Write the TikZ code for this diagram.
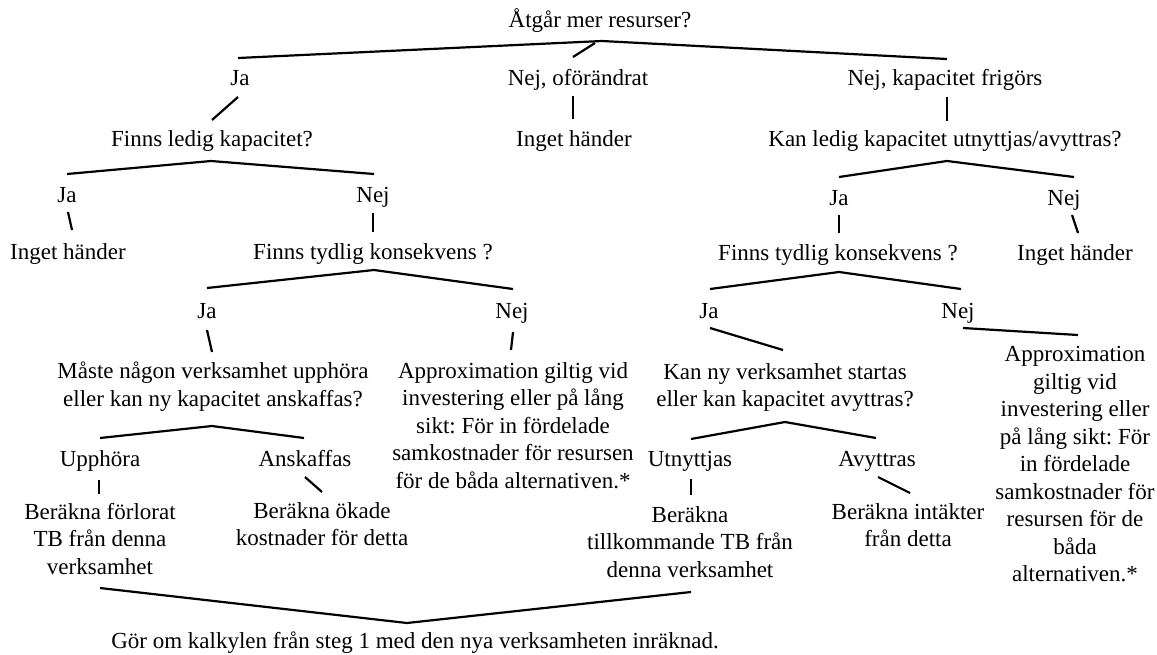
\documentclass[tikz,border=0pt]{standalone}
\usepackage{fontspec}
\setmainfont{Liberation Serif}
\frenchspacing
\begin{document}
\begin{tikzpicture}[x=1pt,y=-1pt,
  lbl/.style={font=\fontsize{23}{27.5}\selectfont, align=center, inner sep=0pt,
    execute at begin node=\strut, execute at end node=\strut},
  ln/.style={line width=2.2pt, line cap=butt, line join=miter}]
\useasboundingbox (0,0) rectangle (1157,654);

% ---------- texts ----------
\node[lbl] (q0) at (600,21.5) {Åtgår mer resurser?};
\node[lbl] (a1) at (240,79.5) {Ja};
\node[lbl] (a2) at (578,79.5) {Nej, oförändrat};
\node[lbl] (a3) at (945,79.5) {Nej, kapacitet frigörs};
\node[lbl] (q1) at (212,140.5) {Finns ledig kapacitet?};
\node[lbl] (r1) at (574,140.5) {Inget händer};
\node[lbl] (q2) at (945,140.5) {Kan ledig kapacitet utnyttjas/avyttras?};
\node[lbl] (b1) at (67,197) {Ja};
\node[lbl] (b2) at (373,197) {Nej};
\node[lbl] (b3) at (839,199.5) {Ja};
\node[lbl] (b4) at (1064,199.5) {Nej};
\node[lbl] (r2) at (68,254) {Inget händer};
\node[lbl] (q3) at (373,254) {Finns tydlig konsekvens ?};
\node[lbl] (q4) at (838,255) {Finns tydlig konsekvens ?};
\node[lbl] (r3) at (1075,255) {Inget händer};
\node[lbl] (c1) at (207,312.5) {Ja};
\node[lbl] (c2) at (512,312.5) {Nej};
\node[lbl] (c3) at (709,312.5) {Ja};
\node[lbl] (c4) at (958,312.5) {Nej};
\node[lbl] (q5) at (213,388.25) {Måste någon verksamhet upphöra\\eller kan ny kapacitet anskaffas?};
\node[lbl] (p1) at (513,429.5) {Approximation giltig vid\\investering eller på lång\\sikt: För in fördelade\\samkostnader för resursen\\för de båda alternativen.*};
\node[lbl] (q6) at (785,389.25) {Kan ny verksamhet startas\\eller kan kapacitet avyttras?};
\node[lbl] (p2) at (1075,468.5) {Approximation\\giltig vid\\investering eller\\på lång sikt: För\\in fördelade\\samkostnader för\\resursen för de\\båda\\alternativen.*};
\node[lbl] (d1) at (100,460.5) {Upphöra};
\node[lbl] (d2) at (305,460.5) {Anskaffas};
\node[lbl] (d3) at (690,460.5) {Utnyttjas};
\node[lbl] (d4) at (877,460.5) {Avyttras};
\node[lbl] (e1) at (100,543) {Beräkna förlorat\\TB från denna\\verksamhet};
\node[lbl] (e2) at (322,528.25) {Beräkna ökade\\kostnader för detta};
\node[lbl] (e3) at (690,546) {Beräkna\\tillkommande TB från\\denna verksamhet};
\node[lbl] (e4) at (908,529.25) {Beräkna intäkter\\från detta};
\node[lbl] (f) at (415,643) {Gör om kalkylen från steg 1 med den nya verksamheten inräknad.};

% ---------- connector end points ----------
\coordinate (top) at (602,41);
\coordinate (topL) at (238,58);
\coordinate (topR) at (947,59);
\coordinate (topMa) at (595,43);
\coordinate (topMb) at (573,57);
\coordinate (a1b) at (238,97);   \coordinate (q1t) at (212,120);
\coordinate (a2b) at (573,96);   \coordinate (r1t) at (573,119);
\coordinate (a3b) at (947,97);   \coordinate (q2t) at (947,121);
\coordinate (q1p) at (211,161);  \coordinate (q1L) at (67,174);   \coordinate (q1R) at (374,174);
\coordinate (q2p) at (947,161);  \coordinate (q2L) at (839,177);  \coordinate (q2R) at (1074,177);
\coordinate (b1b) at (68,212);   \coordinate (r2t) at (72,230);
\coordinate (b2b) at (373,213);  \coordinate (q3t) at (373,232);
\coordinate (b3b) at (839,215);  \coordinate (q4t) at (839,233);
\coordinate (b4b) at (1072,215); \coordinate (r3t) at (1078,233);
\coordinate (q3p) at (374,270);  \coordinate (q3L) at (207,288);  \coordinate (q3R) at (513,289);
\coordinate (q4p) at (839,272);  \coordinate (q4L) at (710,289);  \coordinate (q4R) at (961,289);
\coordinate (c1b) at (207,330);  \coordinate (q5t) at (212,352);
\coordinate (c2b) at (513,332);  \coordinate (p1t) at (511,350);
\coordinate (c3b) at (710,328);  \coordinate (q6t) at (783,350);
\coordinate (c4b) at (963,328);  \coordinate (p2t) at (1078,335);
\coordinate (q5p) at (212,426);  \coordinate (q5L) at (100,438);  \coordinate (q5R) at (304,438);
\coordinate (q6p) at (785,422);  \coordinate (q6L) at (691,439);  \coordinate (q6R) at (876,438);
\coordinate (d1b) at (99,480);   \coordinate (e1t) at (99,494);
\coordinate (d2b) at (305,477);  \coordinate (e2t) at (322,492);
\coordinate (d3b) at (691,479);  \coordinate (e3t) at (691,495);
\coordinate (d4b) at (878,477);  \coordinate (e4t) at (910,493);
\coordinate (mL) at (100,588);   \coordinate (mB) at (407,623);   \coordinate (mR) at (691,592);

% ---------- connectors ----------
\draw[ln] (topL) -- (top) -- (topR);
\draw[ln] (topMa) -- (topMb);
\draw[ln] (a1b) -- (q1t);
\draw[ln] (a2b) -- (r1t);
\draw[ln] (a3b) -- (q2t);
\draw[ln] (q1L) -- (q1p) -- (q1R);
\draw[ln] (q2L) -- (q2p) -- (q2R);
\draw[ln] (b1b) -- (r2t);
\draw[ln] (b2b) -- (q3t);
\draw[ln] (b3b) -- (q4t);
\draw[ln] (b4b) -- (r3t);
\draw[ln] (q3L) -- (q3p) -- (q3R);
\draw[ln] (q4L) -- (q4p) -- (q4R);
\draw[ln] (c1b) -- (q5t);
\draw[ln] (c2b) -- (p1t);
\draw[ln] (c3b) -- (q6t);
\draw[ln] (c4b) -- (p2t);
\draw[ln] (q5L) -- (q5p) -- (q5R);
\draw[ln] (q6L) -- (q6p) -- (q6R);
\draw[ln] (d1b) -- (e1t);
\draw[ln] (d2b) -- (e2t);
\draw[ln] (d3b) -- (e3t);
\draw[ln] (d4b) -- (e4t);
\draw[ln] (mL) -- (mB) -- (mR);
\end{tikzpicture}
\end{document}
